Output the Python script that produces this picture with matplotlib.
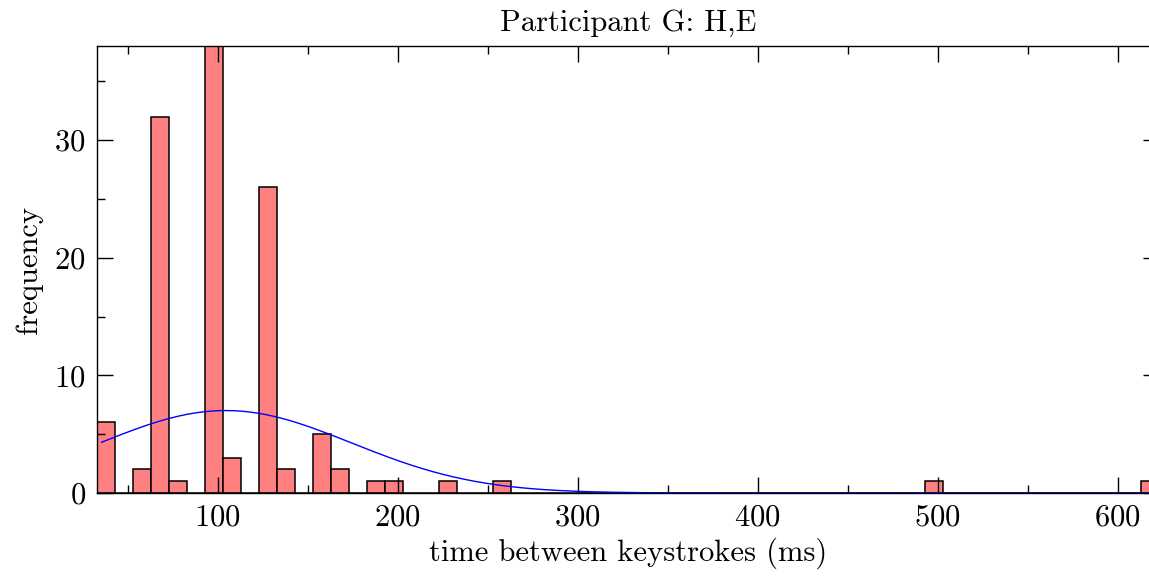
import numpy as np
import matplotlib
matplotlib.use("Agg")
import matplotlib.pyplot as plt
from matplotlib.ticker import MultipleLocator

plt.rcParams.update({
    "font.family": "serif",
    "font.serif": ["cmr10"],
    "mathtext.fontset": "cm",
    "axes.formatter.use_mathtext": True,
    "font.size": 22,
})

# Histogram of inter-keystroke times (bin width 10 ms, starting at 33 ms)
BIN_START = 33
BIN_WIDTH = 10
N_BINS = 59
counts = [6, 0, 2, 32, 1, 0, 38, 3, 0, 26, 2, 0, 5, 2, 0, 1, 1, 0, 0, 1,
          0, 0, 1, 0, 0, 0, 0, 0, 0, 0, 0, 0, 0, 0, 0, 0, 0, 0, 0, 0,
          0, 0, 0, 0, 0, 0, 1, 0, 0, 0, 0, 0, 0, 0, 0, 0, 0, 0, 1]

# Normal fit overlaid on the histogram
FIT_MU = 104.5
FIT_SIGMA = 70.0
FIT_START = 35.5

edges = BIN_START + BIN_WIDTH * np.arange(N_BINS + 1)
centers = edges[:-1] + BIN_WIDTH / 2

fig = plt.figure(figsize=(11.49, 5.76), dpi=100)
# right spine lies just outside the saved image, as in the original crop
ax = fig.add_axes([97 / 1149, 1 - 493 / 576, (1159 - 97) / 1149, (493 - 46) / 576])

ax.hist(centers, bins=edges, weights=counts, color="#ff8080",
        edgecolor="black", linewidth=1.1)

xs = np.linspace(FIT_START, edges[-1], 400)
n_total = sum(counts)
pdf = np.exp(-0.5 * ((xs - FIT_MU) / FIT_SIGMA) ** 2) / (FIT_SIGMA * np.sqrt(2 * np.pi))
ax.plot(xs, pdf * n_total * BIN_WIDTH, color="blue", linewidth=1.0)

ax.set_xlim(edges[0], edges[-1])
ax.set_ylim(0, max(counts))
ax.xaxis.set_major_locator(MultipleLocator(100))
ax.xaxis.set_minor_locator(MultipleLocator(50))
ax.yaxis.set_major_locator(MultipleLocator(10))
ax.yaxis.set_minor_locator(MultipleLocator(5))
ax.tick_params(which="both", direction="in", top=True, right=True, width=1.0)
ax.tick_params(which="major", length=11.5, pad=8)
ax.tick_params(which="minor", length=5.8)
for s in ax.spines.values():
    s.set_linewidth(1.0)

ax.set_xlabel("time between keystrokes (ms)", labelpad=4)
ax.set_ylabel("frequency", labelpad=8)
ax.set_title("Participant G: H,E", fontsize=22, pad=11)

fig.savefig("out.png", dpi=100)
